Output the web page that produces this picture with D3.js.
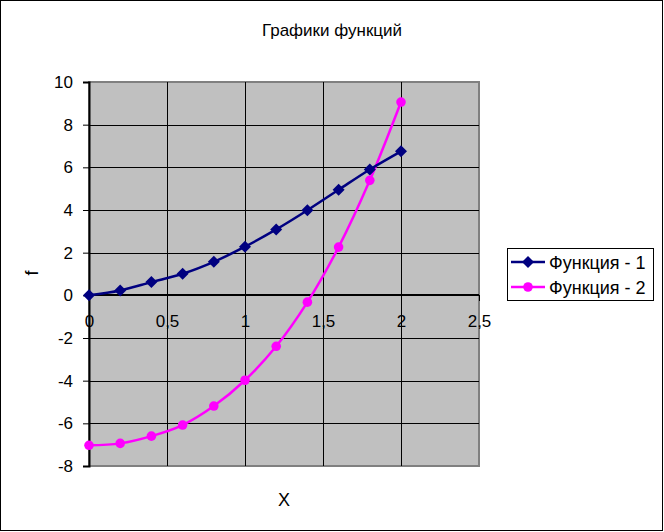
<!DOCTYPE html>
<html><head><meta charset="utf-8">
<script src="https://cdn.jsdelivr.net/npm/d3@7"></script>
<style>body{margin:0;background:#fff}svg{display:block;font-family:Arial,"Liberation Sans",sans-serif}</style>
</head><body><div id="chart"></div>
<script>
const xValues = [0, 0.2, 0.4, 0.6, 0.8, 1.0, 1.2, 1.4, 1.6, 1.8, 2.0];
const series1 = [0, 0.23, 0.62, 1.01, 1.57, 2.28, 3.09, 3.99, 4.95, 5.9, 6.75];
const series2 = [-7.03, -6.94, -6.6, -6.08, -5.19, -3.98, -2.39, -0.32, 2.26, 5.39, 9.06];
const seriesNames = ["Функция - 1", "Функция - 2"];
const xTicks = [0, 0.5, 1, 1.5, 2, 2.5];
const yTicks = [-8, -6, -4, -2, 0, 2, 4, 6, 8, 10];
const titleText = "Графики функций";
const xTitle = "X", yTitle = "f";

const W = 664, H = 532;
const FONT = "Arial, 'Liberation Sans', sans-serif";
const svg = d3.select("#chart").append("svg").attr("width", W).attr("height", H);
svg.append("rect").attr("x", 0.5).attr("y", 0.5).attr("width", 662).attr("height", 530)
  .attr("fill", "#fff").attr("stroke", "#000");

const L = 89, R = 479, T = 82, B = 466;
const x = d3.scaleLinear().domain([0, 2.5]).range([L, R]);
const y = d3.scaleLinear().domain([-8, 10]).range([B, T]);

svg.append("rect").attr("x", L).attr("y", T).attr("width", R - L).attr("height", B - T)
  .attr("fill", "#C0C0C0").attr("stroke", "#808080").attr("stroke-width", 2);

// gridlines
const g = svg.append("g");
g.selectAll(".hg").data(yTicks.filter(d => d > -8 && d < 10 && d !== 0)).enter().append("line")
  .attr("x1", L).attr("x2", R).attr("y1", d => Math.round(y(d)) + 0.5).attr("y2", d => Math.round(y(d)) + 0.5)
  .attr("stroke", "#000");
g.selectAll(".vg").data(xTicks.filter(d => d > 0 && d < 2.5)).enter().append("line")
  .attr("y1", T).attr("y2", B).attr("x1", d => Math.round(x(d)) + 0.5).attr("x2", d => Math.round(x(d)) + 0.5)
  .attr("stroke", "#000");

// y axis
const yAxis = d3.axisLeft(y).tickValues(yTicks).tickSize(6).tickPadding(10).tickFormat(d => String(d));
const ya = svg.append("g").attr("transform", `translate(${L},0)`).call(yAxis);
ya.select(".domain").attr("stroke", "#000").attr("stroke-width", 2);
ya.selectAll(".tick line").attr("stroke", "#000");
ya.selectAll("text").attr("font-size", 17).attr("fill", "#000").attr("font-family", FONT);

// x axis at y=0
const xAxis = d3.axisBottom(x).tickValues(xTicks).tickSize(6).tickPadding(14)
  .tickFormat(d => String(d).replace(".", ","));
const xa = svg.append("g").attr("transform", `translate(0,${Math.round(y(0))})`).call(xAxis);
xa.select(".domain").attr("stroke", "#000").attr("stroke-width", 2).attr("d", `M${L},0H${R}`);
xa.selectAll(".tick line").attr("stroke", "#000");
xa.selectAll("text").attr("font-size", 17).attr("fill", "#000").attr("font-family", FONT);

// lines
const curve = d3.curveCatmullRom.alpha(0.5);
const line = d3.line().x((d, i) => x(xValues[i])).y(d => y(d)).curve(curve);
svg.append("path").datum(series2).attr("d", line).attr("fill", "none").attr("stroke", "#FF00FF").attr("stroke-width", 2.5);
svg.append("path").datum(series1).attr("d", line).attr("fill", "none").attr("stroke", "#000080").attr("stroke-width", 2.5);

const diamondType = { draw(ctx, size) { const r = Math.sqrt(size) / 2; ctx.moveTo(0, -r); ctx.lineTo(r, 0); ctx.lineTo(0, r); ctx.lineTo(-r, 0); ctx.closePath(); } };
const diamond = d3.symbol().type(diamondType).size(144);
svg.append("g").selectAll("path").data(series1).enter().append("path")
  .attr("d", diamond).attr("transform", (d, i) => `translate(${x(xValues[i])},${y(d)})`)
  .attr("fill", "#000080");
svg.append("g").selectAll("circle").data(series2).enter().append("circle")
  .attr("cx", (d, i) => x(xValues[i])).attr("cy", d => y(d)).attr("r", 4.8).attr("fill", "#FF00FF");

// titles
svg.append("text").attr("x", 332).attr("y", 36).attr("text-anchor", "middle").attr("font-size", 17).text(titleText);
svg.append("text").attr("x", 284).attr("y", 506).attr("text-anchor", "middle").attr("font-size", 18).text(xTitle);
svg.append("text").attr("transform", "translate(38,273) rotate(-90)").attr("text-anchor", "middle").attr("font-size", 18).text(yTitle);

// legend
const lg = svg.append("g");
lg.append("rect").attr("x", 507.5).attr("y", 248.5).attr("width", 146).attr("height", 52).attr("fill", "#fff").attr("stroke", "#000");
const colors = ["#000080", "#FF00FF"];
seriesNames.forEach((name, i) => {
  const cy = 262 + i * 25;
  lg.append("line").attr("x1", 511).attr("x2", 545).attr("y1", cy).attr("y2", cy).attr("stroke", colors[i]).attr("stroke-width", 2.5);
  if (i === 0) lg.append("path").attr("d", diamond).attr("transform", `translate(528,${cy})`).attr("fill", colors[i]);
  else lg.append("circle").attr("cx", 528).attr("cy", cy).attr("r", 4.8).attr("fill", colors[i]);
  lg.append("text").attr("x", 549).attr("y", cy + 7).attr("font-size", 18).text(name);
});
</script></body></html>
